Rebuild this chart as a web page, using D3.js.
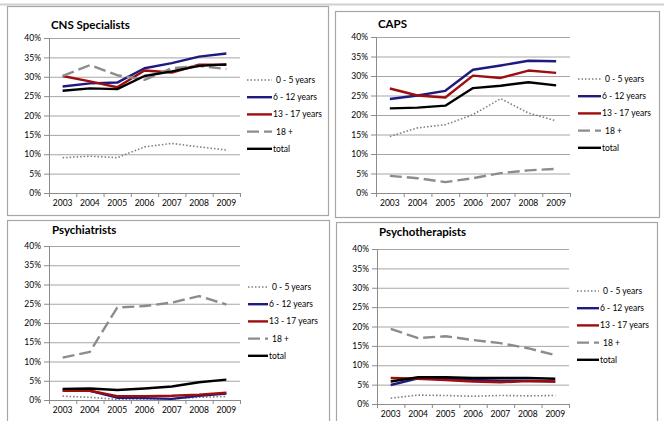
<!DOCTYPE html>
<html>
<head>
<meta charset="utf-8">
<script src="https://cdn.jsdelivr.net/npm/d3@7"></script>
<style>
  body { margin: 0; background: #fff; }
  svg { display: block; font-family: Lato, 'Open Sans', sans-serif; }
  .tick text { fill: #000; }
</style>
</head>
<body>
<div id="svgContainer"></div>
<script>
const years = ['2003', '2004', '2005', '2006', '2007', '2008', '2009']
const seriesNames = ['0 - 5 years', '6 - 12 years', '13 - 17 years', '18 +', 'total']
const yTicks = [0, 0.05, 0.10, 0.15, 0.20, 0.25, 0.30, 0.35, 0.40]

// CNS Specialists
const cns0to5 = [9.1, 9.5, 9.1, 11.9, 12.8, 11.9, 11.1]
const cns6to12 = [27.5, 28.3, 28.5, 32.2, 33.5, 35.2, 36.0]
const cns13to17 = [30.2, 28.8, 27.3, 31.6, 31.1, 33.1, 33.1]
const cns18plus = [30.2, 33.0, 30.4, 29.2, 32.2, 32.8, 32.0]
const cnsTotal = [26.4, 27.0, 26.8, 30.2, 31.4, 32.8, 33.2]

// CAPS
const caps0to5 = [14.5, 16.7, 17.5, 20.1, 24.2, 20.5, 18.5]
const caps6to12 = [24.1, 25.0, 26.2, 31.6, 32.7, 33.9, 33.8]
const caps13to17 = [26.8, 25.0, 24.5, 30.1, 29.5, 31.4, 30.8]
const caps18plus = [4.4, 3.8, 2.8, 3.8, 5.1, 5.8, 6.2]
const capsTotal = [21.7, 21.9, 22.4, 26.9, 27.5, 28.4, 27.6]

// Psychiatrists
const psy0to5 = [1.0, 0.7, 0.2, 0.3, 0.3, 0.7, 0.9]
const psy6to12 = [2.6, 2.4, 0.6, 0.5, 0.3, 1.1, 1.7]
const psy13to17 = [2.4, 2.4, 1.0, 1.0, 1.1, 1.4, 1.9]
const psy18plus = [11.0, 12.5, 24.0, 24.4, 25.3, 27.0, 24.8]
const psyTotal = [2.9, 3.0, 2.6, 3.0, 3.5, 4.6, 5.3]

// Psychotherapists
const pth0to5 = [1.5, 2.3, 2.2, 2.0, 2.2, 2.1, 2.2]
const pth6to12 = [4.9, 6.6, 6.5, 6.2, 6.0, 6.0, 5.8]
const pth13to17 = [6.7, 6.5, 6.2, 5.8, 5.6, 5.9, 5.8]
const pth18plus = [19.4, 17.0, 17.5, 16.5, 15.7, 14.4, 12.6]
const pthTotal = [5.8, 6.9, 6.9, 6.7, 6.7, 6.7, 6.5]

const styles = [
  { color: '#7f7f7f', width: 1.6, dash: '1.5,2' },
  { color: '#1f1a80', width: 2.4, dash: null },
  { color: '#a00d0d', width: 2.4, dash: null },
  { color: '#8c8c8c', width: 2.4, dash: '12,5' },
  { color: '#000000', width: 2.4, dash: null }
]

const panels = [
  { title: 'CNS Specialists', data: [cns0to5, cns6to12, cns13to17, cns18plus, cnsTotal],
    frame: [7, 6, 321, 209], plot: [49, 38, 240, 193], title_xy: [51, 29], legend: [247, 80, 25] },
  { title: 'CAPS', data: [caps0to5, caps6to12, caps13to17, caps18plus, capsTotal],
    frame: [335, 11, 324, 206], plot: [376, 37, 570, 193], title_xy: [378, 28], legend: [578, 79, 23] },
  { title: 'Psychiatrists', data: [psy0to5, psy6to12, psy13to17, psy18plus, psyTotal],
    frame: [7, 220, 322, 210], plot: [49, 246, 240, 400], title_xy: [52, 234], legend: [248, 287, 20] },
  { title: 'Psychotherapists', data: [pth0to5, pth6to12, pth13to17, pth18plus, pthTotal],
    frame: [336, 222, 321, 210], plot: [377, 249, 569, 404], title_xy: [379, 236], legend: [577, 291, 22] }
]

const svg = d3.select('#svgContainer')
              .append('svg')
              .attr('width', 664)
              .attr('height', 421)

svg.append('line')
   .attr('x1', 0).attr('x2', 664)
   .attr('y1', 4.5).attr('y2', 4.5)
   .attr('stroke', '#d0d0d0')
   .attr('stroke-width', 2)

panels.forEach(function(p) {
  const [fx, fy, fw, fh] = p.frame
  const [left, top, right, bottom] = p.plot

  svg.append('rect')
     .attr('x', fx + 0.5).attr('y', fy + 0.5)
     .attr('width', fw).attr('height', fh)
     .attr('fill', '#fff')
     .attr('stroke', '#a6a6a6')
     .attr('stroke-width', 1.2)

  const g = svg.append('g')

  const xScale = d3.scaleBand()
                   .domain(years)
                   .range([left, right])
  const yScale = d3.scaleLinear()
                   .domain([0, 0.4])
                   .range([bottom, top])

  // gridlines
  g.append('g')
   .attr('transform', 'translate(' + left + ',0)')
   .call(d3.axisLeft(yScale).tickValues(yTicks.slice(1)).tickSize(-(right - left)).tickFormat(''))
   .call(a => a.select('.domain').remove())
   .selectAll('line')
   .attr('stroke', '#a6a6a6')

  // y axis
  g.append('g')
   .attr('transform', 'translate(' + left + ',0)')
   .call(d3.axisLeft(yScale).tickValues(yTicks).tickSize(5).tickPadding(3).tickFormat(d3.format('.0%')))
   .call(a => a.selectAll('line, path').attr('stroke', '#8c8c8c'))
   .call(a => a.selectAll('text').attr('font-size', '8.5px').attr('font-family', 'Lato'))

  // x axis: tick marks at category boundaries
  const boundary = d3.scaleLinear().domain([0, years.length]).range([left, right])
  g.append('g')
   .attr('transform', 'translate(0,' + bottom + ')')
   .call(d3.axisBottom(boundary).tickValues(d3.range(years.length + 1)).tickSize(4).tickFormat(''))
   .call(a => a.selectAll('line, path').attr('stroke', '#8c8c8c'))

  g.append('g')
   .attr('transform', 'translate(0,' + bottom + ')')
   .call(d3.axisBottom(xScale).tickSize(0).tickPadding(7))
   .call(a => a.select('.domain').remove())
   .call(a => a.selectAll('text').attr('font-size', '8.5px').attr('font-family', 'Lato'))

  const line = d3.line()
                 .x((d, i) => xScale(years[i]) + xScale.bandwidth() / 2)
                 .y(d => yScale(d / 100))

  p.data.forEach(function(values, k) {
    const s = styles[k]
    g.append('path')
     .datum(values)
     .attr('d', line)
     .attr('fill', 'none')
     .attr('stroke', s.color)
     .attr('stroke-width', s.width)
     .attr('stroke-dasharray', s.dash)
     .attr('stroke-linejoin', 'round')
  })

  g.append('text')
   .attr('x', p.title_xy[0])
   .attr('y', p.title_xy[1])
   .attr('font-size', '11.5px')
   .attr('font-weight', 'bold')
   .attr('font-family', 'Lato')
   .text(p.title)

  const [lx, ly, llen] = p.legend
  seriesNames.forEach(function(name, k) {
    const s = styles[k]
    const yy = ly + k * 17.2
    g.append('line')
     .attr('x1', lx).attr('x2', lx + llen)
     .attr('y1', yy).attr('y2', yy)
     .attr('stroke', s.color)
     .attr('stroke-width', s.width)
     .attr('stroke-dasharray', s.dash)
    g.append('text')
     .attr('x', lx + llen + (s.dash ? 4 : 1))
     .attr('y', yy)
     .attr('dy', '0.35em')
     .attr('font-size', '8.5px')
     .attr('font-family', 'Lato')
     .text(name)
  })
})
</script>
</body>
</html>
